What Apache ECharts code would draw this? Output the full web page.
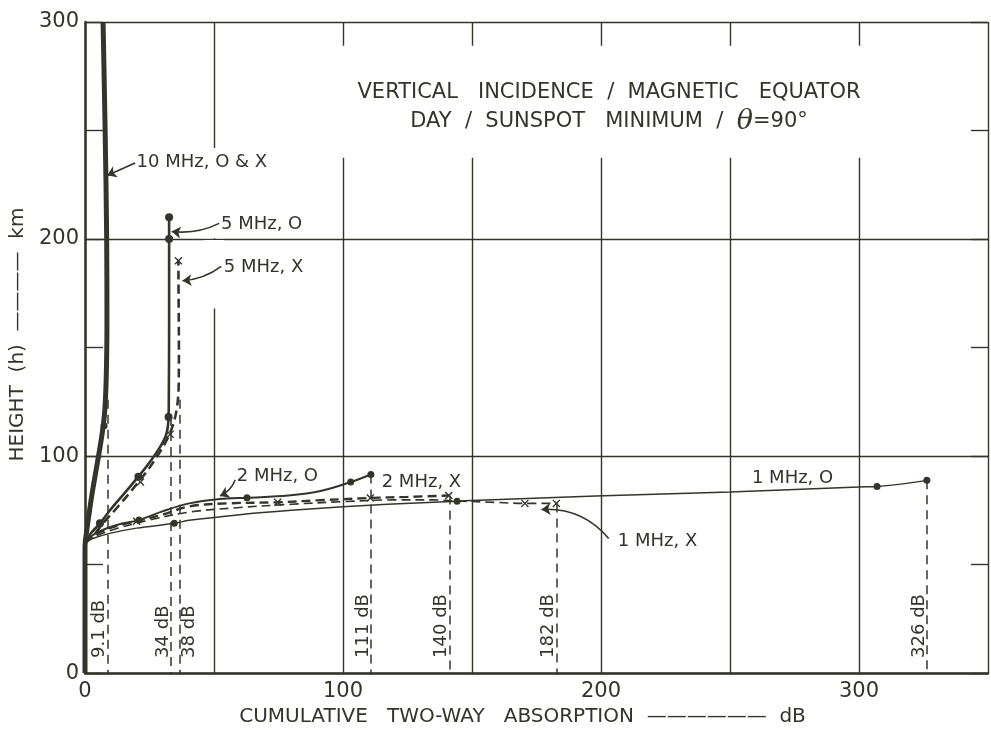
<!DOCTYPE html>
<html>
<head>
<meta charset="utf-8">
<script src="https://cdn.jsdelivr.net/npm/echarts@6/dist/echarts.min.js"></script>
<style>
html,body{margin:0;padding:0;background:#fff;}
#chart{width:991px;height:732px;}
</style>
</head>
<body>
<div id="chart"></div>
<script>
// ---------------- data (x = cumulative absorption dB, y = height km) ----------------
const tenMHz = [[0,0],[0,58],[0.6,65],[1.9,76],[3.2,86],[5.1,99],[6.6,110],[7.6,120],[8.2,135],[8.5,160],[8.4,200],[7.8,250],[7.0,300]];
const tenDots = [[7.4,114]];

const fiveO = [[0,60],[2,64],[5.8,69],[10,75.5],[15,82.5],[20.7,90.5],[25,97],[29,104],[31.5,110],[32.4,118],[32.5,130],[32.6,160],[32.6,200],[32.6,210]];
const fiveODots = [[5.8,69],[20.7,90.5],[32.4,118],[32.6,200],[32.6,210]];

const fiveX = [[0,60],[3,63],[7,69],[13,77],[19,85.5],[24,93],[28,100],[31.5,107],[34,114],[35.6,122],[36.3,132],[36.4,150],[36.3,170],[36.2,190]];
const fiveXMarks = [[21.5,88],[33,110],[36.2,190]];

const twoO = [[0,60],[3,63.5],[8,66.5],[14,68.8],[20.9,70.5],[30,74.5],[40.4,78.2],[52.3,80.2],[62.8,80.8],[78.8,81.8],[91.7,84],[103,88],[110.8,91.5]];
const twoODots = [[20.9,70.5],[62.8,80.8],[103,88],[110.8,91.5]];

const twoX = [[0,60],[3,63],[8,66],[14,68.3],[20,70],[30,73],[40.4,76.8],[55,78.2],[74.7,78.7],[90,79.6],[110.6,80.7],[125,81.2],[141,81.8]];
const twoXMarks = [[20,70],[74.7,78.7],[110.6,80.7],[141,81.8]];

const oneO = [[0,60],[3,62],[10,64.5],[20,66.8],[34.6,69],[40.4,70.4],[60,73],[80,75],[100,76.6],[117.3,77.8],[144.2,79.2],[150,79.5],[198,81.6],[250,83.5],[300,85.8],[307,86],[326.3,88.8]];
const oneODots = [[34.6,69],[144.2,79.2],[307,86],[326.3,88.8]];

const oneX = [[0,60],[4,63],[12,66.5],[25,70.5],[40.4,74.2],[60,76.3],[80,77.8],[100,79],[120,79.8],[135,79.8],[144,79.3],[160,78.6],[170.5,78.2],[182.7,78.2]];
const oneXMarks = [[170.5,78.2],[182.7,78.2]];

// drop lines to the axis with their totals
const dropX     = [8.7, 33.3, 36.9, 110.8, 141.4, 182.7, 326.3];
const dropTop   = [126, 118, 126, 91.5, 81.8, 78.2, 88.8];
const dropText  = ['9.1 dB','34 dB','38 dB','111 dB','140 dB','182 dB','326 dB'];
const dropSide  = ['L','L','R','L','L','L','L'];

// curve labels: text, anchor (left edge, middle) in data coords
const labelText = ['10 MHz, O & X','5 MHz, O','5 MHz, X','2 MHz, O','2 MHz, X','1 MHz, O','1 MHz, X'];
const labelPos  = [[20,235.2],[52.7,206.7],[53.8,187],[58.8,90.5],[115,87.7],[258.5,89.6],[206.5,60.6]];

// arrows: from label to curve
const arrowFrom = [[19.4,235],[52,207.2],[52.8,187.4],[58.2,89],[203,62]];
const arrowTo   = [[8.6,229.3],[33.6,203.5],[37.8,180.8],[52.3,81.6],[176.9,75.4]];
const arrowCurv = [0, 0.15, 0.15, 0.2, -0.25];

// ticks
const xTickLabels = ['0','100','200','300'];
const yTickLabels = ['0','100','200','300'];

// ---------------- chart ----------------
const C = '#33352a';
const FF = 'DejaVu Sans';
const xShape = 'path://M0,1.2L1.2,0L5,3.8L8.8,0L10,1.2L6.2,5L10,8.8L8.8,10L5,6.2L1.2,10L0,8.8L3.8,5Z';

function curve(name, data, width, dashed) {
  return {
    name, type:'line', data, showSymbol:false, smooth:0.35, z:3,
    lineStyle:{color:C, width, type: dashed ? [9,5] : 'solid'},
    silent:true
  };
}
function dots(data, size) {
  return {type:'scatter', data, symbol:'circle', symbolSize:size||7, itemStyle:{color:C, opacity:1}, z:4, silent:true};
}
function xMarks(data) {
  return {type:'scatter', data, symbol:xShape, symbolSize:8, itemStyle:{color:C, opacity:1}, z:4, silent:true};
}

const option = {
  animation:false,
  backgroundColor:'#ffffff',
  grid:{left:85, right:-4, top:22, bottom:57},
  xAxis:{
    type:'value', min:0, max:350, interval:50,
    axisLine:{show:true, lineStyle:{color:C, width:2.5}},
    axisTick:{show:false},
    splitLine:{show:true, lineStyle:{color:C, width:1.4}},
    axisLabel:{
      color:C, fontSize:21, fontFamily:FF, margin:8,
      formatter:v => (v % 100 === 0 ? xTickLabels[v/100] || '' : '')
    },
    name:'CUMULATIVE   TWO-WAY   ABSORPTION  ——————  dB',
    nameLocation:'middle', nameGap:33,
    nameTextStyle:{color:C, fontSize:20, fontFamily:FF, padding:[0,28,0,0]}
  },
  yAxis:[{
    type:'value', min:0, max:300, interval:100,
    axisLine:{show:true, lineStyle:{color:C, width:2.5}},
    axisTick:{show:true, inside:true, length:18, lineStyle:{color:C, width:1.4}},
    minorTick:{show:true, splitNumber:2, length:18, lineStyle:{color:C, width:1.4}},
    splitLine:{show:true, lineStyle:{color:C, width:1.4}},
    axisLabel:{color:C, fontSize:21, fontFamily:FF, margin:6,
      formatter:v => yTickLabels[v/100] || ''},
    name:'HEIGHT  (h)  ————  km', nameLocation:'middle', nameGap:57,
    nameTextStyle:{color:C, fontSize:20, fontFamily:FF, padding:[0,0,0,26]}
  },{
    type:'value', min:0, max:300, interval:100, position:'right',
    axisLine:{show:false},
    axisTick:{show:true, inside:true, length:17, lineStyle:{color:C, width:1.4}},
    minorTick:{show:true, splitNumber:2, length:17, lineStyle:{color:C, width:1.4}},
    splitLine:{show:false}, axisLabel:{show:false}
  }],
  graphic:[{
    type:'text', x:609, y:107, z:10,
    style:{
      text:'VERTICAL   INCIDENCE  /  MAGNETIC   EQUATOR\nDAY  /  SUNSPOT   MINIMUM  /  {t|θ}=90°',
      align:'center', verticalAlign:'middle',
      fill:C, font:'21px "DejaVu Sans"', lineHeight:29,
      rich:{t:{fontStyle:'italic', fontSize:27, fontFamily:'DejaVu Serif', fill:C, lineHeight:29}}
    }
  }],
  series:[
    // white gaps in grid lines behind annotations
    {type:'line', data:[], silent:true, z:1,
      markArea:{silent:true, itemStyle:{color:'#ffffff', opacity:1}, label:{show:false},
        data:[[{coord:[95,237.5]},{coord:[312,289]}],
              [{coord:[46,168]},{coord:[54,199.6]}],
              [{coord:[46,200.4]},{coord:[54,242]}]]}},
    curve('10 MHz', tenMHz, 5, false),
    curve('5 MHz O', fiveO, 2.6, false),
    curve('5 MHz X', fiveX, 2.6, true),
    curve('2 MHz O', twoO, 2, false),
    curve('2 MHz X', twoX, 2.4, true),
    curve('1 MHz O', oneO, 1.5, false),
    curve('1 MHz X', oneX, 1.6, true),
    dots(tenDots, 7), dots(fiveODots, 8), dots(twoODots, 7), dots(oneODots, 7),
    xMarks(fiveXMarks), xMarks(twoXMarks), xMarks(oneXMarks),
    {
      type:'lines', coordinateSystem:'cartesian2d', silent:true, z:2,
      lineStyle:{color:C, width:1.5, type:[9,6], opacity:1},
      data: dropX.map((x,i) => ({coords:[[x,dropTop[i]],[x,0]]}))
    },
    {
      type:'lines', coordinateSystem:'cartesian2d', silent:true, z:3,
      symbol:['none','arrow'], symbolSize:9,
      data: arrowFrom.map((p,i) => ({coords:[p, arrowTo[i]], lineStyle:{curveness:arrowCurv[i]}})),
      lineStyle:{color:C, width:1.6, opacity:1}
    },
    {
      type:'scatter', symbolSize:0, silent:true, z:5, itemStyle:{opacity:1},
      data: labelText.map((t,i) => ({name:t, value:labelPos[i]})),
      label:{show:true, position:'right', distance:0, align:'left', verticalAlign:'middle',
        formatter:p => p.name, color:C, fontSize:18, fontFamily:FF, opacity:1}
    },
    {
      type:'scatter', symbolSize:0, silent:true, z:5, itemStyle:{opacity:1},
      data: dropX.map((x,i) => ({name:dropText[i], value:[x,7],
        label:{offset:[0, dropSide[i]==='L' ? -8 : 9]}})),
      label:{show:true, position:'right', distance:0, align:'left', verticalAlign:'middle', rotate:90,
        formatter:p => p.name, color:C, fontSize:18, fontFamily:FF, opacity:1}
    }
  ]
};

const chart = echarts.init(document.getElementById('chart'), null, {renderer:'canvas'});
chart.setOption(option);
</script>
</body>
</html>
